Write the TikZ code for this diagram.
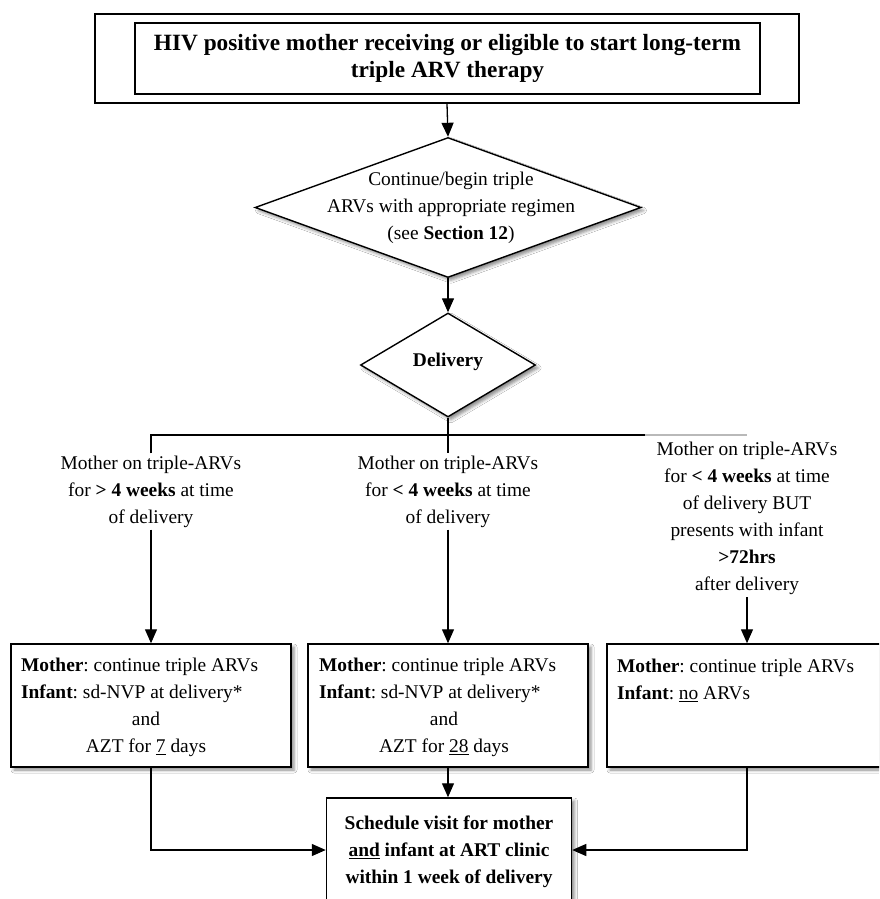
\documentclass[tikz,border=0pt]{standalone}
\usepackage{fontspec}
\setmainfont{Liberation Serif}
\usetikzlibrary{arrows.meta,shapes.geometric,shadows.blur}
\newcommand{\ctrline}[1]{\makebox[250pt][c]{#1}}
\begin{document}
\frenchspacing
\begin{tikzpicture}[x=1pt,y=-1pt,
  bodyfont/.style={font=\frenchspacing\fontsize{19.4}{27}\selectfont},
  boldfont/.style={font=\frenchspacing\bfseries\fontsize{19.4}{27}\selectfont},
  conn/.style={line width=1.3pt},
  arr/.style={conn, -{Triangle[length=14pt,width=12pt]}},
  boxshadow/.style={blur shadow={shadow xshift=3pt,shadow yshift=-3pt,shadow blur radius=3pt,shadow opacity=45}},
  box/.style={draw, line width=1.5pt, fill=white, rectangle, inner sep=0pt, boxshadow},
  dia/.style={draw, diamond, line width=1.4pt, fill=white, inner sep=0pt, boxshadow},
  txt/.style={bodyfont, align=center, inner sep=2pt},
  boxtxt/.style={bodyfont, align=left, inner sep=0pt}
]
\clip (0,0) rectangle (879,899);
\fill[white] (0,0) rectangle (879,899);

% top
\node[draw, line width=1.5pt, minimum width=704pt, minimum height=89pt, inner sep=0pt] (outer) at (447,58.5) {};
\node[draw, line width=1.5pt, minimum width=625pt, minimum height=71pt, inner sep=0pt,
      font=\bfseries\fontsize{23.3}{27}\selectfont, align=center] (top) at (447.5,58.5)
      {HIV positive mother receiving or eligible to start long-term\\triple ARV therapy};

% diamonds
\node[dia, minimum width=386pt, minimum height=140pt] (d1) at (448,207.5) {};
\node[txt] (d1t) at (451,208.3) {Continue/begin triple\\ARVs with appropriate regimen\\(see \textbf{Section 12})};
\node[dia, minimum width=175pt, minimum height=104pt] (d2) at (448,365) {};
\node[txt, boldfont] (d2t) at (448,362) {Delivery};

% branch texts
\node[txt] (t1) at (151,491.5) {Mother on triple-ARVs\\for \textbf{> 4 weeks} at time\\of delivery};
\node[txt] (t2) at (448,491.5) {Mother on triple-ARVs\\for \textbf{< 4 weeks} at time\\of delivery};
\node[txt] (t3) at (747,518.5) {Mother on triple-ARVs\\for \textbf{< 4 weeks} at time\\of delivery BUT\\presents with infant\\\textbf{>72hrs}\\after delivery};

% boxes
\node[box, minimum width=280pt, minimum height=123pt] (b1) at (151,705.5) {};
\node[box, minimum width=280pt, minimum height=123pt] (b2) at (448,705.5) {};
\node[box, minimum width=280pt, minimum height=123pt] (b3) at (747,705.5) {};
\node[boxtxt] (b1t) at (146,707.5) {\ctrline{\textbf{Mother}: continue triple ARVs\hfill}\\\ctrline{\textbf{Infant}: sd-NVP at delivery*\hfill}\\\ctrline{and}\\\ctrline{AZT for \underline{7} days}};
\node[boxtxt] (b2t) at (444,707.5) {\ctrline{\textbf{Mother}: continue triple ARVs\hfill}\\\ctrline{\textbf{Infant}: sd-NVP at delivery*\hfill}\\\ctrline{and}\\\ctrline{AZT for \underline{28} days}};
\node[boxtxt] (b3t) at (742,680.5) {\ctrline{\textbf{Mother}: continue triple ARVs\hfill}\\\ctrline{\textbf{Infant}: \underline{no} ARVs\hfill}};

\node[box, minimum width=245pt, minimum height=104pt] (bot) at (449,850) {};
\node[txt, boldfont] (bott) at (449,852) {Schedule visit for mother\\\underline{and} infant at ART clinic\\within 1 week of delivery};

% connectors
\draw[arr] (outer.south) -- (d1.north);
\draw[arr] (d1.south) -- (d2.north);
\coordinate (j) at (448,435);
\coordinate (jb) at (645,435);
\draw[conn] (d2.south) -- (t2.north);
\draw[conn] (t1.north) -- (t1.north |- j) -- (jb);
\draw[conn, gray!55] (jb) -- (t3.north |- j);
\draw[arr] (t1.south) -- (b1.north);
\draw[arr] (t2.south) -- (b2.north);
\draw[arr] (t3.south) -- (b3.north);
\draw[arr] (b2.south) -- (b2.south |- bot.north);
\draw[arr] (b1.south) |- (bot.west);
\draw[arr] (b3.south) |- (bot.east);
\end{tikzpicture}
\end{document}
